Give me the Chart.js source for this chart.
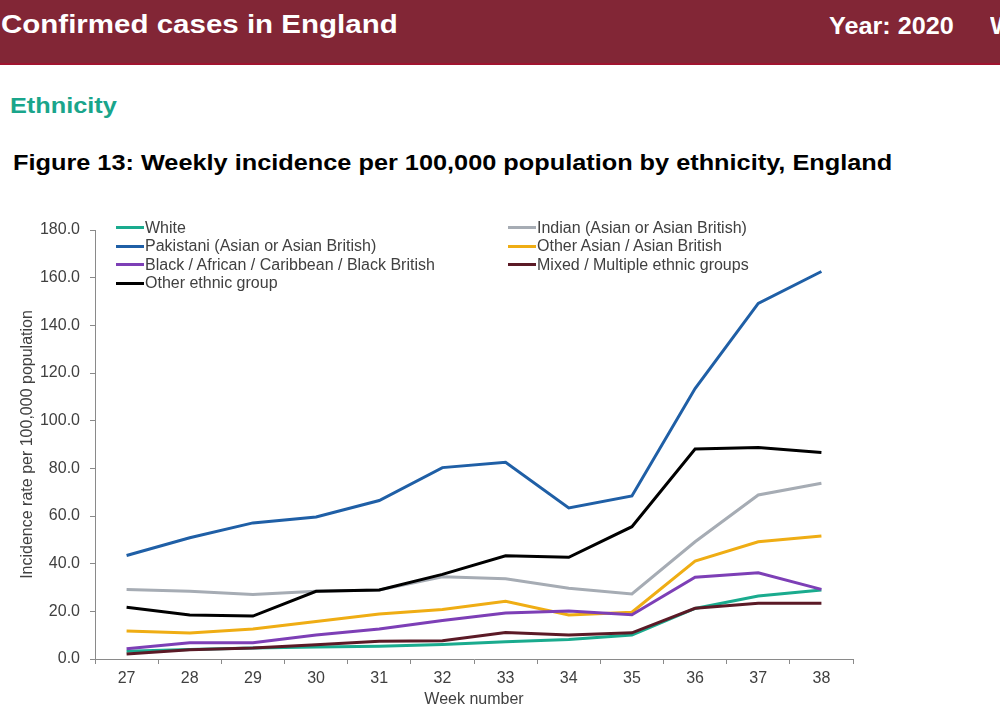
<!DOCTYPE html>
<html>
<head>
<meta charset="utf-8">
<script src="https://cdn.jsdelivr.net/npm/chart.js@4.4.1/dist/chart.umd.min.js"></script>
<style>
  html, body { margin: 0; padding: 0; background: #fff; width: 1000px; height: 716px; overflow: hidden; font-family: "Liberation Sans", Arial, sans-serif; }
  #header { position: absolute; left: 0; top: 0; width: 1000px; height: 63px; background: #822636; border-bottom: 2px solid #a0142f; }
  .ht { position: absolute; color: #fff; font-weight: bold; line-height: 1; white-space: nowrap; transform-origin: 0 0; }
  #title { left: 1px; top: 12px; font-size: 25px; transform: scaleX(1.18); }
  #year { left: 829px; top: 14px; font-size: 24px; transform: scaleX(1.05); }
  #wk { left: 990px; top: 14px; font-size: 24px; transform: scaleX(1.05); }
  #section { position: absolute; left: 10px; top: 95px; font-size: 22px; font-weight: bold; color: #1aa58b; line-height: 1; white-space: nowrap; transform: scaleX(1.15); transform-origin: 0 0; }
  #fig { position: absolute; left: 13px; top: 152px; font-size: 22px; font-weight: bold; color: #000; line-height: 1; white-space: nowrap; transform: scaleX(1.15); transform-origin: 0 0; }
  #wrap { position: absolute; left: 0; top: 200px; width: 1000px; height: 516px; }
  #legend { position: absolute; left: 0; top: 0; width: 1000px; height: 0; }
  .li { position: absolute; height: 18px; display: flex; align-items: center; font-size: 16px; color: #404040; white-space: nowrap; }
  .ln { width: 28px; height: 3px; margin-right: 1px; }
</style>
</head>
<body>
<div id="header">
  <div class="ht" id="title">Confirmed cases in England</div>
  <div class="ht" id="year">Year: 2020</div>
  <div class="ht" id="wk">Week: 38</div>
</div>
<div id="section">Ethnicity</div>
<div id="fig">Figure 13: Weekly incidence per 100,000 population by ethnicity, England</div>
<div id="wrap"><canvas id="c"></canvas></div>
<div id="legend"></div>
<script>
const weeks = ["27","28","29","30","31","32","33","34","35","36","37","38"];
const seriesNames = [
  "White",
  "Indian (Asian or Asian British)",
  "Pakistani (Asian or Asian British)",
  "Other Asian / Asian British",
  "Black / African / Caribbean / Black British",
  "Mixed / Multiple ethnic groups",
  "Other ethnic group"
];
const white      = [3.3, 4.0, 4.6, 5.0, 5.3, 6.1, 7.2, 8.2, 10.1, 21.2, 26.4, 29.0];
const indian     = [29.2, 28.4, 27.1, 28.4, 29.0, 34.5, 33.7, 29.7, 27.3, 49.2, 68.8, 73.7];
const pakistani  = [43.4, 50.9, 57.1, 59.6, 66.5, 80.3, 82.5, 63.4, 68.4, 113.5, 149.2, 162.6];
const otherAsian = [11.7, 10.9, 12.6, 15.7, 18.9, 20.8, 24.2, 18.5, 19.6, 41.1, 49.2, 51.6];
const black      = [4.3, 6.8, 6.8, 10.1, 12.6, 16.2, 19.3, 20.1, 18.6, 34.3, 36.2, 29.2];
const mixed      = [2.1, 3.9, 4.6, 6.0, 7.4, 7.7, 11.1, 10.1, 11.0, 21.3, 23.4, 23.4];
const otherGroup = [21.7, 18.5, 18.0, 28.4, 29.0, 35.5, 43.3, 42.7, 55.5, 88.1, 88.7, 86.6];
const yTicks = [0, 20, 40, 60, 80, 100, 120, 140, 160, 180];

const seriesValues = [white, indian, pakistani, otherAsian, black, mixed, otherGroup];
const colors = ["#1aab8e", "#a6acb4", "#1f5fa6", "#efad14", "#7d3fb6", "#5b1a26", "#000000"];

const datasets = seriesNames.map((name, i) => ({
  label: name,
  data: seriesValues[i],
  borderColor: colors[i],
  backgroundColor: colors[i],
  borderWidth: 3,
  pointRadius: 0,
  tension: 0,
  fill: false,
  order: seriesNames.length - i
}));

// Legend (two columns, row-major)
const legend = document.getElementById('legend');
const colX = [116, 508];
const rowY = [218.5, 237, 255.5, 274];
seriesNames.forEach((name, i) => {
  const d = document.createElement('div');
  d.className = 'li';
  d.style.left = colX[i % 2] + 'px';
  d.style.top = rowY[Math.floor(i / 2)] + 'px';
  const ln = document.createElement('span');
  ln.className = 'ln';
  ln.style.background = colors[i];
  const tx = document.createElement('span');
  tx.textContent = name;
  d.appendChild(ln); d.appendChild(tx);
  legend.appendChild(d);
});

const fontBase = { family: '"Liberation Sans", Arial, sans-serif', size: 16 };
const axisColor = '#8a8a8a';
const textColor = '#404040';

new Chart(document.getElementById('c'), {
  type: 'line',
  data: { labels: weeks, datasets },
  options: {
    responsive: true,
    maintainAspectRatio: false,
    animation: false,
    devicePixelRatio: 1,
    layout: { padding: { top: 30, right: 147, left: 0, bottom: 0 } },
    plugins: { legend: { display: false }, tooltip: { enabled: false } },
    scales: {
      x: {
        type: 'category',
        offset: true,
        grid: { offset: true, drawOnChartArea: false, drawTicks: true, tickLength: 5, color: axisColor },
        border: { display: true, color: axisColor, width: 1 },
        ticks: { font: fontBase, color: textColor, padding: 5, maxRotation: 0 },
        title: { display: true, text: 'Week number', font: fontBase, color: textColor, padding: { top: 0, bottom: 7 } },
        afterFit: (s) => { s.height = 57; }
      },
      y: {
        min: 0,
        max: 180,
        afterBuildTicks: (s) => { s.ticks = yTicks.map(v => ({ value: v })); },
        grid: { drawOnChartArea: false, drawTicks: true, tickLength: 5, color: axisColor },
        border: { display: true, color: axisColor, width: 1 },
        ticks: { font: fontBase, color: textColor, padding: 10, callback: (v) => Number(v).toFixed(1) },
        title: { display: true, text: 'Incidence rate per 100,000 population', font: fontBase, color: textColor, padding: { top: 18, bottom: 0 } },
        afterFit: (s) => { s.width = 95; }
      }
    }
  }
});
</script>
</body>
</html>
